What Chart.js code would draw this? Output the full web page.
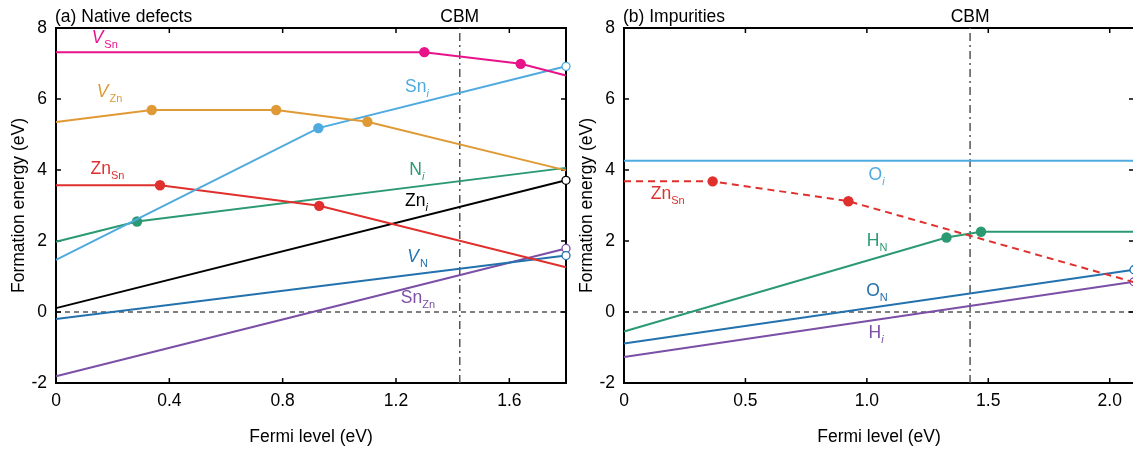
<!DOCTYPE html>
<html>
<head>
<meta charset="utf-8">
<script src="https://cdn.jsdelivr.net/npm/chart.js@4"></script>
<style>
  html, body { margin: 0; padding: 0; background: #fff; overflow: hidden; width: 1133px; height: 453px; }
  canvas { position: absolute; top: 0; }
  #nativeChart { left: 0; }
  #impurityChart { left: 575px; }
</style>
</head>
<body>
<canvas id="nativeChart" width="575" height="453"></canvas>
<canvas id="impurityChart" width="565" height="453"></canvas>
<script>
// ---- Axis ranges and tick values (eV) ----
const nativeFermiMax = 1.8;
const impurityFermiMax = 2.1;
const cbmEnergy = 1.425;
const energyMin = -2;
const energyMax = 8;
const energyTicks = [-2, 0, 2, 4, 6, 8];
const nativeFermiTicks = [0, 0.4, 0.8, 1.2, 1.6];
const impurityFermiTicks = [0, 0.5, 1.0, 1.5, 2.0];

// ---- (a) Native defects: Fermi level (eV) and formation energy (eV) ----
const vSnFermi = [0, 1.30, 1.64, 1.8];
const vSnEnergy = [7.32, 7.32, 6.99, 6.66];
const vZnFermi = [0, 0.338, 0.777, 1.099, 1.8];
const vZnEnergy = [5.35, 5.69, 5.69, 5.36, 3.99];
const snIFermi = [0, 0.926, 1.8];
const snIEnergy = [1.47, 5.18, 6.92];
const znSnFermi = [0, 0.367, 0.929, 1.8];
const znSnEnergy = [3.57, 3.57, 2.99, 1.26];
const nIFermi = [0, 0.286, 1.8];
const nIEnergy = [1.98, 2.55, 4.06];
const znIFermi = [0, 1.8];
const znIEnergy = [0.11, 3.71];
const vNFermi = [0, 1.8];
const vNEnergy = [-0.20, 1.59];
const snZnFermi = [0, 1.8];
const snZnEnergy = [-1.81, 1.79];

// ---- (b) Impurities ----
const oIFermi = [0, 2.1];
const oIEnergy = [4.26, 4.26];
const znSnImpFermi = [0, 0.365, 0.924, 2.1];
const znSnImpEnergy = [3.68, 3.68, 3.12, 0.84];
const hNFermi = [0, 1.328, 1.470, 2.1];
const hNEnergy = [-0.55, 2.10, 2.26, 2.26];
const oNFermi = [0, 2.1];
const oNEnergy = [-0.89, 1.19];
const hIFermi = [0, 2.1];
const hIEnergy = [-1.27, 0.85];

// ---- Styling ----
const FONT = '"Liberation Sans", Arial, Helvetica, sans-serif';
const C = {
  magenta: '#e8138a',
  orange: '#df9a36',
  sky: '#4eaadf',
  red: '#e0302e',
  green: '#2b9a72',
  blue: '#2372ae',
  purple: '#7b4fa6',
  black: '#000000'
};

function pts(xs, ys) {
  return xs.map((x, i) => ({ x: x, y: ys[i] }));
}

// A defect line: filled dots mark the charge-transition kinks,
// an optional open circle marks the end of the line.
function defect(xs, ys, color, openEnd, dash) {
  const last = xs.length - 1;
  return {
    data: pts(xs, ys),
    borderColor: color,
    borderWidth: 2,
    borderDash: dash || [],
    showLine: true,
    clip: false,
    pointRadius: ctx => (ctx.dataIndex > 0 && ctx.dataIndex < last) ? 5.2 : (ctx.dataIndex === last && openEnd ? 4 : 0),
    pointBackgroundColor: ctx => ctx.dataIndex === last ? '#ffffff' : color,
    pointBorderColor: color,
    pointBorderWidth: ctx => ctx.dataIndex === last ? 1.3 : 0,
    pointHoverRadius: 0
  };
}

function zeroLine(xMax) {
  return {
    data: pts([0, xMax], [0, 0]),
    borderColor: '#000',
    borderWidth: 1.2,
    borderDash: [5, 4],
    showLine: true,
    pointRadius: 0,
    order: 10
  };
}

function cbmLine() {
  return {
    data: pts([cbmEnergy, cbmEnergy], [energyMin, energyMax]),
    borderColor: '#555555',
    borderWidth: 1.5,
    borderDash: [8, 4, 2, 4],
    showLine: true,
    pointRadius: 0,
    order: 11
  };
}

// Draws a label made of pieces: [text, kind] with kind 'n' normal, 'i' italic,
// 's' subscript, 'si' italic subscript.
function drawRich(ctx, x, y, parts, color) {
  ctx.save();
  ctx.fillStyle = color;
  ctx.textAlign = 'left';
  ctx.textBaseline = 'alphabetic';
  let cx = x;
  parts.forEach(([t, k]) => {
    const sub = k === 's' || k === 'si';
    const it = k === 'i' || k === 'si';
    ctx.font = (it ? 'italic ' : '') + (sub ? '11px ' : '17.5px ') + FONT;
    ctx.fillText(t, cx, y + (sub ? 5 : 0));
    cx += ctx.measureText(t).width + (k === 'i' ? 1 : 0);
  });
  ctx.restore();
}

const framePlugin = {
  id: 'frame',
  beforeDatasetsDraw(chart, args, opts) {
    const { ctx, chartArea: a, scales } = chart;
    ctx.save();
    ctx.strokeStyle = '#000';
    ctx.lineWidth = 1.5;
    const tl = 5;
    ctx.beginPath();
    opts.xTicks.forEach(v => {
      const px = scales.x.getPixelForValue(v);
      ctx.moveTo(px, a.bottom); ctx.lineTo(px, a.bottom - tl);
      ctx.moveTo(px, a.top); ctx.lineTo(px, a.top + tl);
    });
    energyTicks.forEach(v => {
      const py = scales.y.getPixelForValue(v);
      ctx.moveTo(a.left, py); ctx.lineTo(a.left + tl, py);
      ctx.moveTo(a.right, py); ctx.lineTo(a.right - tl, py);
    });
    ctx.stroke();
    ctx.lineWidth = 2;
    ctx.strokeRect(a.left, a.top, a.right - a.left, a.bottom - a.top);
    ctx.restore();
  },
  afterDatasetsDraw(chart, args, opts) {
    const { ctx, chartArea: a, scales } = chart;
    ctx.save();
    ctx.fillStyle = '#000';
    ctx.font = '17.5px ' + FONT;
    ctx.textBaseline = 'alphabetic';
    // panel title
    ctx.textAlign = 'left';
    ctx.fillText(opts.title, a.left - 1, a.top - 6.5);
    // CBM marker
    ctx.textAlign = 'center';
    ctx.fillText('CBM', scales.x.getPixelForValue(cbmEnergy), a.top - 6.5);
    // axis titles
    ctx.fillText('Fermi level (eV)', (a.left + a.right) / 2, a.bottom + 59);
    ctx.translate(a.left - 37, (a.top + a.bottom) / 2);
    ctx.rotate(-Math.PI / 2);
    ctx.textBaseline = 'middle';
    ctx.fillText('Formation energy (eV)', 0, 0);
    ctx.restore();
    // defect labels
    opts.labels.forEach(l => {
      drawRich(ctx, scales.x.getPixelForValue(l.x), scales.y.getPixelForValue(l.y), l.parts, l.color);
    });
  }
};

function panelOptions(xMax, xTicks, yWidth, padRight, title, labels) {
  const tickFont = { family: FONT, size: 17.5 };
  return {
    responsive: false,
    animation: false,
    events: [],
    layout: { padding: { left: 0, right: padRight, top: 28, bottom: 0 } },
    plugins: {
      legend: { display: false },
      tooltip: { enabled: false },
      frame: { title: title, labels: labels, xTicks: xTicks }
    },
    scales: {
      x: {
        type: 'linear', min: 0, max: xMax,
        afterBuildTicks: s => { s.ticks = xTicks.map(v => ({ value: v })); },
        afterFit: s => { s.height = 70; },
        grid: { display: false, drawTicks: false },
        border: { display: false },
        ticks: {
          color: '#000', font: tickFont, padding: 8, maxRotation: 0, autoSkip: false,
          callback: v => (v === 0 ? '0' : Number(v).toFixed(1))
        }
      },
      y: {
        type: 'linear', min: energyMin, max: energyMax,
        afterBuildTicks: s => { s.ticks = energyTicks.map(v => ({ value: v })); },
        afterFit: s => { s.width = yWidth; },
        grid: { display: false, drawTicks: false },
        border: { display: false },
        ticks: { color: '#000', font: tickFont, padding: 9, callback: v => String(v) }
      }
    }
  };
}

const nativeLabels = [
  { x: 0.126, y: 7.58, color: C.magenta, parts: [['V', 'i'], ['Sn', 's']] },
  { x: 0.144, y: 6.07, color: C.orange, parts: [['V', 'i'], ['Zn', 's']] },
  { x: 0.122, y: 3.90, color: C.red, parts: [['Zn', 'n'], ['Sn', 's']] },
  { x: 1.232, y: 6.21, color: C.sky, parts: [['Sn', 'n'], ['i', 'si']] },
  { x: 1.247, y: 3.85, color: C.green, parts: [['N', 'n'], ['i', 'si']] },
  { x: 1.232, y: 3.00, color: C.black, parts: [['Zn', 'n'], ['i', 'si']] },
  { x: 1.240, y: 1.40, color: C.blue, parts: [['V', 'i'], ['N', 's']] },
  { x: 1.217, y: 0.25, color: C.purple, parts: [['Sn', 'n'], ['Zn', 's']] }
];

const impurityLabels = [
  { x: 1.007, y: 3.73, color: C.sky, parts: [['O', 'n'], ['i', 'si']] },
  { x: 0.110, y: 3.19, color: C.red, parts: [['Zn', 'n'], ['Sn', 's']] },
  { x: 1.000, y: 1.85, color: C.green, parts: [['H', 'n'], ['N', 's']] },
  { x: 0.997, y: 0.46, color: C.blue, parts: [['O', 'n'], ['N', 's']] },
  { x: 1.007, y: -0.73, color: C.purple, parts: [['H', 'n'], ['i', 'si']] }
];

new Chart(document.getElementById('nativeChart'), {
  type: 'scatter',
  data: {
    datasets: [
      defect(vSnFermi, vSnEnergy, C.magenta, false),
      defect(vZnFermi, vZnEnergy, C.orange, false),
      defect(snIFermi, snIEnergy, C.sky, true),
      defect(znSnFermi, znSnEnergy, C.red, false),
      defect(nIFermi, nIEnergy, C.green, false),
      defect(znIFermi, znIEnergy, C.black, true),
      defect(vNFermi, vNEnergy, C.blue, true),
      defect(snZnFermi, snZnEnergy, C.purple, true),
      zeroLine(nativeFermiMax),
      cbmLine()
    ]
  },
  options: panelOptions(nativeFermiMax, nativeFermiTicks, 56, 9, '(a) Native defects', nativeLabels),
  plugins: [framePlugin]
});

new Chart(document.getElementById('impurityChart'), {
  type: 'scatter',
  data: {
    datasets: [
      defect(oIFermi, oIEnergy, C.sky, false),
      defect(znSnImpFermi, znSnImpEnergy, C.red, false, [7, 5]),
      defect(hNFermi, hNEnergy, C.green, false),
      defect(oNFermi, oNEnergy, C.blue, true),
      defect(hIFermi, hIEnergy, C.purple, true),
      zeroLine(impurityFermiMax),
      cbmLine()
    ]
  },
  options: panelOptions(impurityFermiMax, impurityFermiTicks, 49, 6, '(b) Impurities', impurityLabels),
  plugins: [framePlugin]
});
</script>
</body>
</html>
